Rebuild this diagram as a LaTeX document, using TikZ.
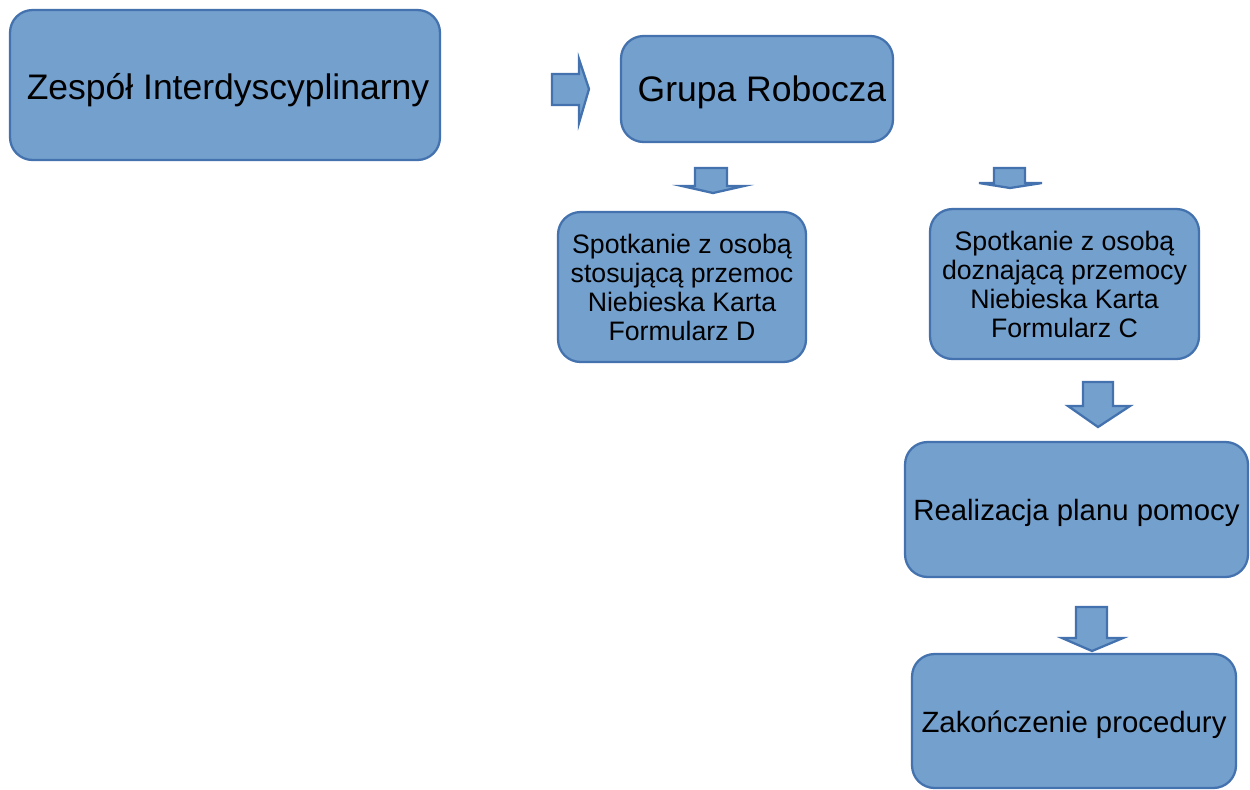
\documentclass[tikz,border=0pt]{standalone}
\usepackage{fontspec}
\setmainfont{Liberation Sans}
\definecolor{boxfill}{RGB}{116,160,206}
\definecolor{boxline}{RGB}{68,114,174}
\begin{document}
\begin{tikzpicture}[x=0.02cm,y=-0.02cm]

        \useasboundingbox (0,0) rectangle (1250,789);

        \begin{scope}[every node/.style={rectangle,rounded corners=0.45cm,draw=boxline,fill=boxfill,line width=1.3pt,align=center,inner sep=0pt}]
          \node[minimum width=8.6cm,minimum height=3cm,font=\fontsize{20.2}{24}\selectfont] (zespol) at (225,85) {\raisebox{-0.1cm}[\height][\depth]{\hspace{0.12cm}Zespół Interdyscyplinarny}};
          \node[minimum width=5.44cm,minimum height=2.12cm,font=\fontsize{20.2}{24}\selectfont] (grupa) at (757,89) {\raisebox{-0.06cm}[\height][\depth]{\hspace{0.2cm}Grupa Robocza}};
          \node[minimum width=4.96cm,minimum height=3cm,font=\fontsize{15.2}{16.5}\selectfont] (sprawca) at (682,287) {Spotkanie z osobą\\stosującą przemoc\\Niebieska Karta\\Formularz D};
          \node[minimum width=5.38cm,minimum height=3cm,font=\fontsize{15.2}{16.5}\selectfont] (ofiara) at (1064.5,284) {Spotkanie z osobą\\doznającą przemocy\\Niebieska Karta\\Formularz C};
          \node[minimum width=6.86cm,minimum height=2.7cm,font=\fontsize{16.7}{20}\selectfont] (plan) at (1076.5,509.5) {\raisebox{-0.07cm}[\height][\depth]{Realizacja planu pomocy}};
          \node[minimum width=6.48cm,minimum height=2.68cm,font=\fontsize{16.7}{20}\selectfont] (koniec) at (1074,721) {\raisebox{-0.08cm}[\height][\depth]{Zakończenie procedury}};
        \end{scope}

        \begin{scope}[every path/.style={draw=boxline,fill=boxfill,line width=1.3pt,line join=miter}]
          % zespol -> grupa
          \path (552,74) -- (579,74) -- (579,59) -- (589,89) -- (579,123) -- (579,105) -- (552,105) -- cycle;
          % grupa -> sprawca
          \path (695,168) -- (727,168) -- (727,186) -- (744,186) -- (713,193) -- (682,186) -- (695,186) -- cycle;
          % grupa -> ofiara
          \path (994,168) -- (1025,168) -- (1025,183) -- (1042,183) -- (1010,188) -- (979,183) -- (994,183) -- cycle;
          % ofiara -> plan
          \path (1083,382) -- (1113,382) -- (1113,406) -- (1130,406) -- (1098,427) -- (1068,406) -- (1083,406) -- cycle;
          % plan -> koniec
          \path (1076,607) -- (1107,607) -- (1107,638) -- (1123,638) -- (1092,651) -- (1062,638) -- (1076,638) -- cycle;
        \end{scope}

      \end{tikzpicture}
\end{document}
